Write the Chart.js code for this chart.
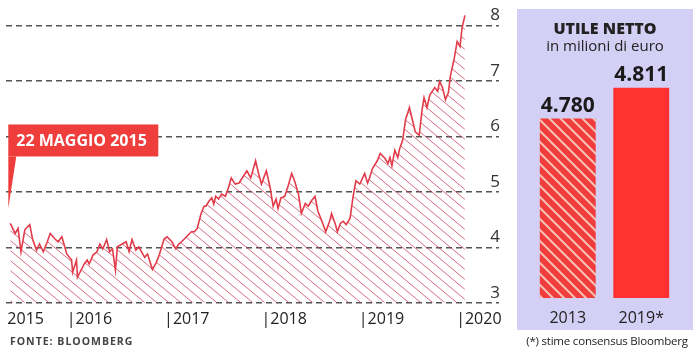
<!DOCTYPE html>
<html lang="it">
<head>
<meta charset="UTF-8">
<title>Utile netto</title>
<script src="https://cdn.jsdelivr.net/npm/chart.js"></script>
<style>
  body { margin: 0; width: 699px; height: 352px; background: #fff; position: relative; overflow: hidden; font-family: 'Open Sans', sans-serif; }
  #priceChart { position: absolute; left: 0; top: -8px; }
  #panel { position: absolute; left: 517px; top: 9px; width: 176px; height: 321px; background: #d3cff5; }
  #profitChart { position: absolute; left: 0; top: 0; }
  .title { position: absolute; left: 0; width: 176px; text-align: center; color: #222; }
  #source { position: absolute; left: 10px; top: 334px; font-size: 10.5px; font-weight: 700; letter-spacing: 1px; color: #444; }
  #note { position: absolute; left: 517px; width: 180px; top: 333px; text-align: center; font-size: 11.5px; letter-spacing: -0.2px; color: #222; }
</style>
</head>
<body>
  <canvas id="priceChart" width="510" height="348"></canvas>
  <div id="panel">
    <canvas id="profitChart" width="176" height="321"></canvas>
    <div class="title" style="top:8px; font-size:16px; font-weight:800;">UTILE NETTO</div>
    <div class="title" style="top:26px; font-size:15px;">in milioni di euro</div>
  </div>
  <div id="source">FONTE: BLOOMBERG</div>
  <div id="note">(*) stime consensus Bloomberg</div>

<script>
// share price (euro); dates as decimal years
const dates = [
  2015.42, 2015.47, 2015.50, 2015.53, 2015.57, 2015.62, 2015.65, 2015.69, 2015.72, 2015.76,
  2015.80, 2015.83, 2015.88, 2015.91, 2015.95, 2016.00, 2016.05, 2016.06, 2016.10, 2016.11,
  2016.15, 2016.18, 2016.21, 2016.23, 2016.27, 2016.31, 2016.34, 2016.37, 2016.41, 2016.44,
  2016.47, 2016.50, 2016.52, 2016.57, 2016.61, 2016.64, 2016.67, 2016.71, 2016.74, 2016.80,
  2016.83, 2016.88, 2016.92, 2016.95, 2017.00, 2017.03, 2017.08, 2017.12, 2017.15, 2017.18,
  2017.23, 2017.28, 2017.31, 2017.34, 2017.38, 2017.41, 2017.43, 2017.46, 2017.49, 2017.51,
  2017.53, 2017.56, 2017.59, 2017.63, 2017.66, 2017.69, 2017.73, 2017.77, 2017.85, 2017.89,
  2017.94, 2017.97, 2018.00, 2018.05, 2018.09, 2018.12, 2018.15, 2018.17, 2018.20, 2018.24,
  2018.28, 2018.31, 2018.34, 2018.38, 2018.41, 2018.45, 2018.48, 2018.51, 2018.55, 2018.58,
  2018.63, 2018.66, 2018.70, 2018.72, 2018.76, 2018.78, 2018.81, 2018.84, 2018.87, 2018.91,
  2018.94, 2018.97, 2019.01, 2019.06, 2019.09, 2019.11, 2019.14, 2019.19, 2019.22, 2019.27,
  2019.30, 2019.32, 2019.34, 2019.37, 2019.40, 2019.42, 2019.45, 2019.48, 2019.52, 2019.55,
  2019.58, 2019.62, 2019.65, 2019.67, 2019.70, 2019.73, 2019.78, 2019.81, 2019.83, 2019.86,
  2019.89, 2019.92, 2019.94, 2019.98, 2020.01, 2020.04, 2020.06, 2020.09
];
const prices = [
  4.43, 4.25, 4.34, 3.92, 4.32, 4.41, 4.14, 3.95, 4.06, 3.92,
  4.10, 4.25, 4.15, 4.10, 4.19, 3.88, 3.77, 3.55, 3.77, 3.46,
  3.60, 3.70, 3.77, 3.70, 3.86, 3.92, 4.06, 3.97, 4.14, 3.92,
  3.97, 3.59, 4.01, 4.06, 4.10, 3.92, 4.14, 3.95, 4.01, 3.82,
  3.88, 3.60, 3.73, 3.86, 4.15, 4.19, 4.10, 3.97, 4.06, 4.10,
  4.19, 4.28, 4.28, 4.34, 4.61, 4.74, 4.74, 4.83, 4.89, 4.78,
  4.92, 4.87, 4.96, 4.92, 5.07, 5.25, 5.14, 5.16, 5.38, 5.25,
  5.56, 5.33, 5.14, 5.38, 5.07, 4.74, 4.87, 4.70, 4.89, 4.92,
  5.14, 5.33, 5.20, 4.96, 4.61, 4.79, 4.74, 4.83, 4.92, 4.65,
  4.43, 4.28, 4.47, 4.61, 4.41, 4.28, 4.43, 4.47, 4.41, 4.52,
  4.90, 5.20, 5.14, 5.33, 5.16, 5.25, 5.42, 5.56, 5.69, 5.60,
  5.51, 5.62, 5.47, 5.75, 5.62, 5.78, 5.93, 6.30, 6.52, 6.30,
  6.08, 6.02, 6.48, 6.70, 6.52, 6.75, 6.88, 6.81, 6.99, 6.88,
  6.66, 6.79, 7.08, 7.40, 7.71, 7.62, 7.95, 8.18
];
const priceTicks = [3, 4, 5, 6, 7, 8];
const yearTicks = [2015.39, 2016, 2017, 2018, 2019, 2020];
const yearLabels = ['2015', '|2016', '|2017', '|2018', '|2019', '|2020'];
const flagText = '22 MAGGIO 2015';

// net profit panel
const profitYears = ['2013', '2019*'];
const profits = [4780, 4811];
const profitLabels = ['4.780', '4.811'];

Chart.defaults.font.family = "'Open Sans', sans-serif";

function makeHatch(w, h, bg, stroke, lw) {
  const c = document.createElement('canvas');
  c.width = w; c.height = h;
  const g = c.getContext('2d');
  if (bg) { g.fillStyle = bg; g.fillRect(0, 0, w, h); }
  g.strokeStyle = stroke;
  g.lineWidth = lw;
  for (let k = -1; k <= 1; k++) {
    g.beginPath();
    g.moveTo(k * w - w, -h);
    g.lineTo(k * w + 2 * w, 2 * h);
    g.stroke();
  }
  return g.createPattern(c, 'repeat');
}

const areaHatch = makeHatch(12, 10, null, 'rgba(200,60,90,0.75)', 1);
const barHatch = makeHatch(11, 11, '#f03c3a', '#f6c2b6', 2);

// red flag pointing at the first point
const flagPlugin = {
  id: 'flag',
  afterDatasetsDraw(chart) {
    const { ctx, scales: { x, y } } = chart;
    const px = x.getPixelForValue(dates[0]) - 2;
    const tip = y.getPixelForValue(prices[0]) - 15;
    const bottom = tip - 52;
    const top = bottom - 32;
    ctx.save();
    ctx.fillStyle = '#ee3d3b';
    ctx.fillRect(px, top, 150, bottom - top);
    ctx.beginPath();
    ctx.moveTo(px, bottom);
    ctx.lineTo(px + 8, bottom);
    ctx.lineTo(px, tip);
    ctx.closePath();
    ctx.fill();
    ctx.fillStyle = '#fff';
    ctx.font = "bold 16px 'Open Sans', sans-serif";
    ctx.textBaseline = 'middle';
    ctx.fillText(flagText, px + 8, (top + bottom) / 2 + 1);
    ctx.restore();
  }
};

new Chart(document.getElementById('priceChart'), {
  type: 'line',
  data: {
    datasets: [{
      data: dates.map((d, i) => ({ x: d, y: prices[i] })),
      borderColor: '#e23c4b',
      borderWidth: 1.6,
      backgroundColor: areaHatch,
      fill: 'start',
      pointRadius: 0,
      tension: 0
    }]
  },
  options: {
    responsive: false,
    devicePixelRatio: 1,
    animation: false,
    layout: { padding: { left: 6, right: 9, top: 5, bottom: 4 } },
    plugins: { legend: { display: false }, tooltip: { enabled: false } },
    scales: {
      x: {
        type: 'linear',
        min: 2015.376,
        max: 2020.44,
        grid: { display: false, drawTicks: false },
        border: { display: false },
        afterBuildTicks: (axis) => { axis.ticks = yearTicks.map(v => ({ value: v })); },
        ticks: {
          align: 'start',
          padding: 7,
          autoSkip: false,
          maxRotation: 0,
          color: '#222',
          font: { size: 16 },
          callback: (v, i) => yearLabels[i]
        }
      },
      y: {
        position: 'right',
        min: 3,
        max: 8.4,
        afterBuildTicks: (axis) => { axis.ticks = priceTicks.map(v => ({ value: v })); },
        grid: { color: '#555', lineWidth: 1.5, drawTicks: false },
        border: { display: false, dash: [6, 4] },
        ticks: {
          mirror: true,
          padding: 1,
          labelOffset: -10,
          color: '#333',
          font: { size: 17 }
        }
      }
    }
  },
  plugins: [flagPlugin]
});

// value labels above the bars
const valuePlugin = {
  id: 'values',
  afterDatasetsDraw(chart) {
    const { ctx } = chart;
    const meta = chart.getDatasetMeta(0);
    ctx.save();
    ctx.fillStyle = '#1a1a1a';
    ctx.font = "bold 21px 'Open Sans', sans-serif";
    ctx.textAlign = 'center';
    ctx.textBaseline = 'bottom';
    meta.data.forEach((bar, i) => ctx.fillText(profitLabels[i], bar.x, bar.y - 2));
    ctx.restore();
  }
};

new Chart(document.getElementById('profitChart'), {
  type: 'bar',
  data: {
    labels: profitYears,
    datasets: [{
      data: profits,
      backgroundColor: [barHatch, '#ff3131'],
      borderWidth: 0,
      barPercentage: 0.76,
      categoryPercentage: 1
    }]
  },
  options: {
    responsive: false,
    devicePixelRatio: 1,
    animation: false,
    layout: { padding: { left: 14, right: 15, top: 0, bottom: 1 } },
    plugins: { legend: { display: false }, tooltip: { enabled: false } },
    scales: {
      x: {
        grid: { display: false, drawTicks: false },
        border: { display: false },
        afterFit: (axis) => { axis.height = 31; },
        ticks: { padding: 11, color: '#222', font: { size: 16 } }
      },
      y: {
        display: false,
        min: 4600,
        max: 4890
      }
    }
  },
  plugins: [valuePlugin]
});
</script>
</body>
</html>
